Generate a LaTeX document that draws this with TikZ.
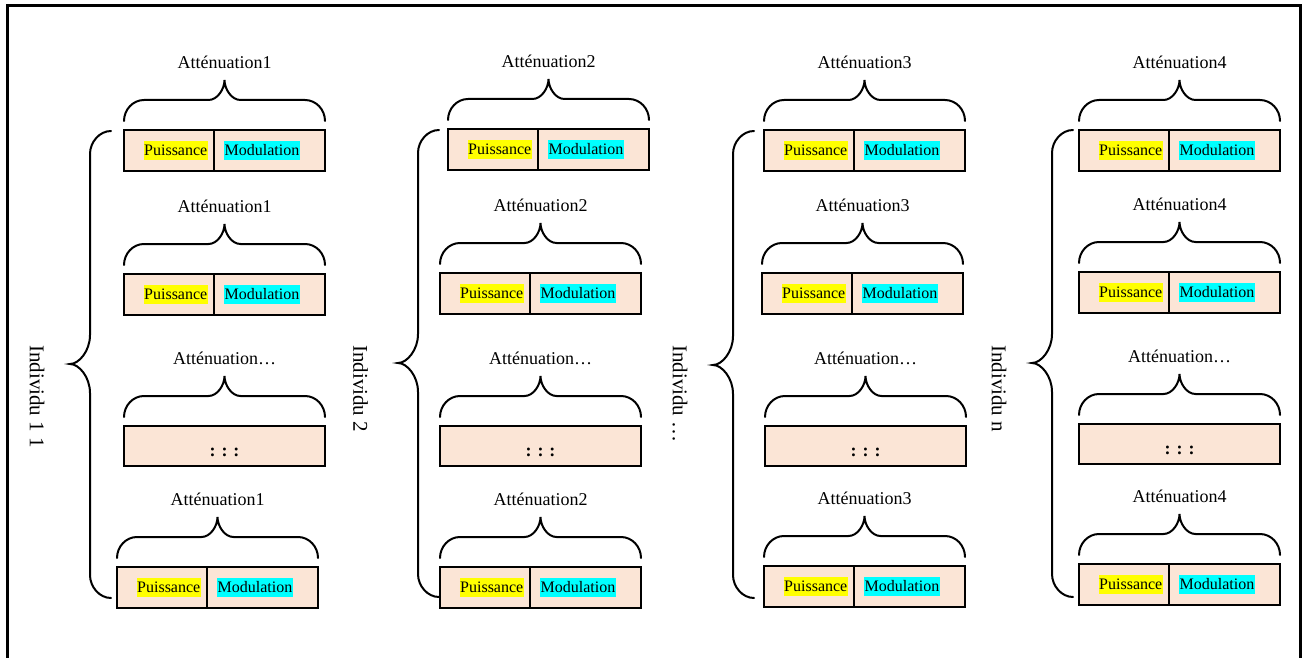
\documentclass[tikz,border=0pt]{standalone}
\usepackage{fontspec}
\setmainfont{Liberation Serif}
\usetikzlibrary{calc}
\definecolor{boxfill}{HTML}{FBE5D6}
\definecolor{hly}{HTML}{FFFF00}
\definecolor{hlc}{HTML}{00FFFF}
\tikzset{
 cell/.style={draw=black, line width=2bp, fill=boxfill, minimum height=41bp, inner sep=0pt, outer sep=0pt, anchor=north west},
 cellL/.style={cell, minimum width=90bp},
 cellR/.style={cell, minimum width=111bp},
 dotbox/.style={cell, minimum width=201bp, minimum height=40bp},
 hl/.style={inner xsep=0.5bp, inner ysep=0bp, text height=14bp, text depth=4.5bp, font=\fontsize{16bp}{18bp}\selectfont},
 hlP/.style={hl, fill=hly, anchor=east},
 hlM/.style={hl, fill=hlc, anchor=west},
 ttl/.style={font=\fontsize{18bp}{20bp}\selectfont, inner sep=0pt},
 indiv/.style={font=\fontsize{21bp}{24bp}\selectfont, rotate=-90, anchor=west, inner sep=0pt},
 brc/.style={draw=black, line width=2bp, line cap=round},
 frame/.style={draw=black, line width=3bp},
 dotstxt/.style={font=\fontsize{18bp}{20bp}\selectfont\bfseries, anchor=base, inner sep=0pt},
}
\newcommand\tbrace[4]{% left anchor, right anchor, title name, title text
 \coordinate (#3m) at ($(#1)!0.5!(#2)$);
 \draw[brc] let \p1=(#1), \p2=(#2), \p3=(#3m) in
  (\x1,\y1+9bp) .. controls (\x1,\y1+20.5bp) and (\x1+9bp,\y1+30bp) .. (\x1+20bp,\y1+30bp)
  -- (\x3-16bp,\y3+30bp) .. controls (\x3-7bp,\y3+30bp) and (\x3,\y3+41bp) .. (\x3,\y3+50bp)
  .. controls (\x3,\y3+41bp) and (\x3+7bp,\y3+30bp) .. (\x3+16bp,\y3+30bp)
  -- (\x2-20bp,\y2+30bp) .. controls (\x2-9bp,\y2+30bp) and (\x2,\y2+20.5bp) .. (\x2,\y2+9bp);
 \node[ttl] (#3) at ([yshift=68bp]#3m) {#4};
}
\newcommand\pmbox[4]{% name, x, y, title
 \node[cellL] (#1L) at (#2,#3) {};
 \node[cellR] (#1R) at (#1L.north east) {};
 \node[hlP] (#1P) at ([xshift=-6bp]#1L.east) {Puissance};
 \node[hlM] (#1M) at ([xshift=10bp]#1R.west) {Modulation};
 \tbrace{#1L.north west}{#1R.north east}{#1T}{#4}
}
\newcommand\dotsbox[4]{% name, x, y, title
 \node[dotbox] (#1) at (#2,#3) {};
 \node[dotstxt] (#1D) at ([yshift=-10bp]#1.center) {: : :};
 \tbrace{#1.north west}{#1.north east}{#1T}{#4}
}
\newcommand\bigbrace[4]{% tip x, top y, bottom y, tip y
 \draw[brc] ({#1+41},#2) .. controls ({#1+29.5},#2) and ({#1+20},{#2+11}) .. ({#1+20},{#2+23})
  -- ({#1+20},{#4-29}) .. controls ({#1+20},{#4-13}) and ({#1+9},#4) .. (#1,#4)
  .. controls ({#1+9},#4) and ({#1+20},{#4+13}) .. ({#1+20},{#4+29})
  -- ({#1+20},{#3-23}) .. controls ({#1+20},{#3-11}) and ({#1+29.5},#3) .. ({#1+41},#3);
}
\begin{document}
\begin{tikzpicture}[x=1bp,y=-1bp]
\useasboundingbox (0,0) rectangle (1306,657);
\draw[frame] (7,660) -- (7,6) -- (1300,6) -- (1300,660);
% column 1
\pmbox{a1}{124}{130}{Atténuation1}
\pmbox{a2}{124}{274}{Atténuation1}
\dotsbox{a3}{124}{426}{Atténuation…}
\pmbox{a4}{117}{567}{Atténuation1}
\bigbrace{70}{131}{598}{364}
\node[indiv] (i1) at (37,345) {Individu 1 1};
% column 2
\pmbox{b1}{448}{129}{Atténuation2}
\pmbox{b2}{440}{273}{Atténuation2}
\dotsbox{b3}{440}{426}{Atténuation…}
\pmbox{b4}{440}{567}{Atténuation2}
\bigbrace{398}{130}{597}{363}
\node[indiv] (i2) at (360.5,345) {Individu 2};
% column 3
\pmbox{c1}{764}{130}{Atténuation3}
\pmbox{c2}{762}{273}{Atténuation3}
\dotsbox{c3}{765}{426}{Atténuation…}
\pmbox{c4}{764}{566}{Atténuation3}
\bigbrace{713}{131}{598}{365}
\node[indiv] (i3) at (680,345) {Individu …};
% column 4
\pmbox{d1}{1079}{130}{Atténuation4}
\pmbox{d2}{1079}{272}{Atténuation4}
\dotsbox{d3}{1079}{424}{Atténuation…}
\pmbox{d4}{1079}{564}{Atténuation4}
\bigbrace{1032}{130}{597}{363}
\node[indiv] (i4) at (999,345) {Individu n};
\end{tikzpicture}
\end{document}
